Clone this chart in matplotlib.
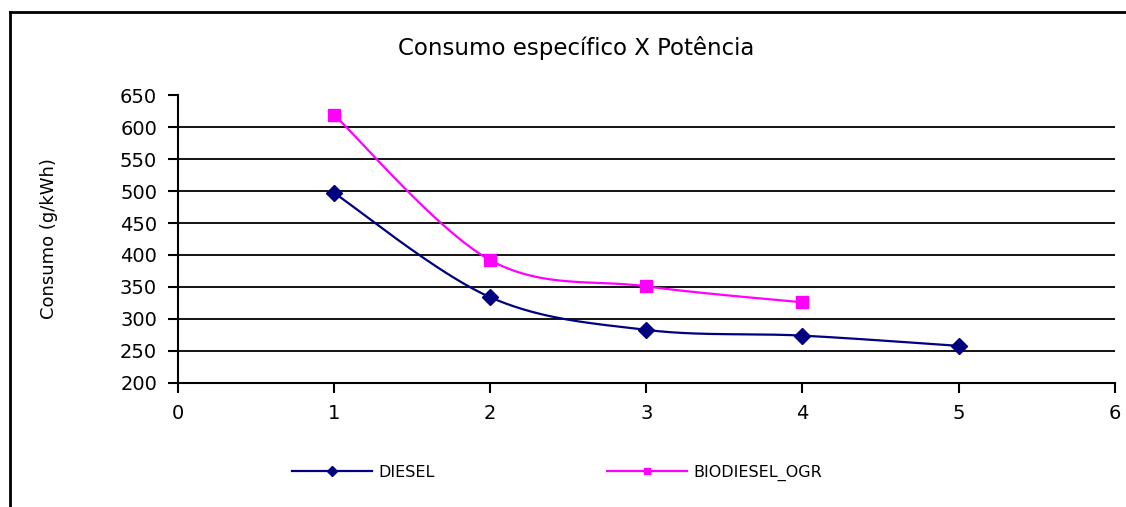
import matplotlib
matplotlib.use("Agg")
import matplotlib.pyplot as plt
from matplotlib.lines import Line2D
import numpy as np

# valores
potencia_diesel = [1, 2, 3, 4, 5]
consumo_diesel = [497, 334, 283, 274, 258]
potencia_bio = [1, 2, 3, 4]
consumo_bio = [619, 392, 351, 326]

x_ticks = [0, 1, 2, 3, 4, 5, 6]
y_ticks = [200, 250, 300, 350, 400, 450, 500, 550, 600, 650]


def smooth(xs, ys, n=40):
    # curva suavizada tipo Excel (bezier / catmull-rom)
    p = np.column_stack([xs, ys]).astype(float)
    out = []
    for i in range(len(p) - 1):
        p0 = p[max(i - 1, 0)]
        p1 = p[i]
        p2 = p[i + 1]
        p3 = p[min(i + 2, len(p) - 1)]
        c1 = p1 + (p2 - p0) / 6
        c2 = p2 - (p3 - p1) / 6
        t = np.linspace(0, 1, n)[:, None]
        seg = ((1 - t) ** 3) * p1 + 3 * ((1 - t) ** 2) * t * c1 + 3 * (1 - t) * t ** 2 * c2 + t ** 3 * p2
        out.append(seg if i == 0 else seg[1:])
    out = np.vstack(out)
    return out[:, 0], out[:, 1]


plt.rcParams['font.family'] = ['DejaVu Sans']

fig = plt.figure(figsize=(11.26, 5.07), dpi=100)
ax = fig.add_axes([0.158, 0.2446, 0.832, 0.568])

navy = '#000080'
mag = '#FF00FF'

sx, sy = smooth(potencia_diesel, consumo_diesel)
ax.plot(sx, sy, color=navy, lw=1.6)
ax.plot(potencia_diesel, consumo_diesel, ls='none', marker='D', ms=8, color=navy)

bx, by = smooth(potencia_bio, consumo_bio)
ax.plot(bx, by, color=mag, lw=1.6)
ax.plot(potencia_bio, consumo_bio, ls='none', marker='s', ms=9, color=mag)

ax.set_xlim(0, 6)
ax.set_ylim(200, 650)
ax.set_xticks(x_ticks)
ax.set_yticks(y_ticks)
ax.tick_params(axis='both', direction='out', length=7, width=1.5, labelsize=14, pad=8)
ax.yaxis.grid(True, color='black', lw=1.3)
ax.get_ygridlines()[-1].set_visible(False)
ax.get_ygridlines()[0].set_visible(False)
ax.set_axisbelow(True)
for s in ['top', 'right']:
    ax.spines[s].set_visible(False)
for s in ['left', 'bottom']:
    ax.spines[s].set_linewidth(1.5)

ax.set_ylabel('Consumo (g/kWh)', fontsize=13)
ax.yaxis.set_label_coords(-0.128, 0.5)
fig.text(0.512, 0.905, 'Consumo específico X Potência', ha='center', va='center', fontsize=16.5)

handles = [Line2D([], [], color=navy, lw=1.6, marker='D', ms=5),
           Line2D([], [], color=mag, lw=1.6, marker='s', ms=5)]
fig.legend(handles, ['DIESEL', 'BIODIESEL_OGR'], ncol=2, frameon=False,
           loc='center', bbox_to_anchor=(0.495, 0.067), fontsize=11.5,
           handlelength=5, columnspacing=10.8, handletextpad=0.4)

# moldura do grafico
fig.add_artist(Line2D([0.009, 1.0], [0.976, 0.976], color='black', lw=2, transform=fig.transFigure))
fig.add_artist(Line2D([0.009, 0.009], [0.0, 0.976], color='black', lw=2, transform=fig.transFigure))

fig.savefig('out.png', dpi=100)
